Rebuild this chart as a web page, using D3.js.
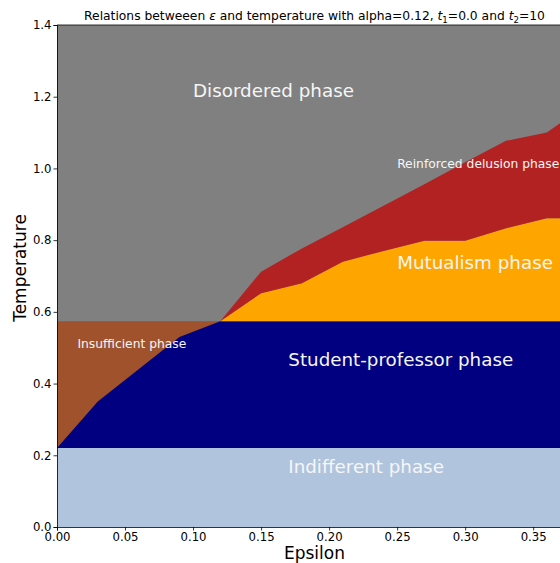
<!DOCTYPE html>
<html>
<head>
<meta charset="utf-8">
<script src="https://cdn.jsdelivr.net/npm/d3@7"></script>
<style>
  body { margin: 0; background: #fff; }
  svg { display: block; font-family: "DejaVu Sans", sans-serif; }
</style>
</head>
<body>
<div id="chart"></div>
<script>
// epsilon grid (step 0.03) and phase boundaries
var epsilon      = [0, 0.03, 0.06, 0.09, 0.12, 0.15, 0.18, 0.21, 0.24, 0.27, 0.30, 0.33, 0.36, 0.39];
var studentTop   = [0.22, 0.35, 0.44, 0.53, 0.574, 0.574, 0.574, 0.574, 0.574, 0.574, 0.574, 0.574, 0.574, 0.574];
var mutualismTop = [0.574, 0.574, 0.574, 0.574, 0.574, 0.652, 0.68, 0.74, 0.77, 0.798, 0.798, 0.833, 0.861, 0.861];
var delusionTop  = [0.574, 0.574, 0.574, 0.574, 0.574, 0.712, 0.777, 0.836, 0.896, 0.956, 1.017, 1.077, 1.10, 1.18];
var indifferentTop = 0.22;
var insufficientTop = 0.574;

var xTicks = [0, 0.05, 0.10, 0.15, 0.20, 0.25, 0.30, 0.35];
var yTicks = [0, 0.2, 0.4, 0.6, 0.8, 1.0, 1.2, 1.4];

var labelText = ["Disordered phase", "Reinforced delusion phase", "Mutualism phase", "Insufficient phase", "Student-professor phase", "Indifferent phase"];
var labelX    = [0.10, 0.25, 0.25, 0.015, 0.17, 0.17];
var labelY    = [1.2, 1.0, 0.72, 0.5, 0.45, 0.15];
var labelSize = [18.3, 12.3, 18.3, 12.3, 18.3, 18.3];

var width = 560, height = 563;
var margin = {left: 57, top: 25, right: -14, bottom: 36};

var svg = d3.select("#chart").append("svg").attr("width", width).attr("height", height);

var x = d3.scaleLinear().domain([0, 0.38]).range([margin.left, width - margin.right]);
var y = d3.scaleLinear().domain([0, 1.4]).range([height - margin.bottom, margin.top]);

var rows = epsilon.map(function(e, i) {
	return {e: e, student: studentTop[i], mutual: mutualismTop[i], delusion: delusionTop[i]};
});

function band(lo, hi) {
	return d3.area()
		.x(function(d) { return x(d.e); })
		.y0(function(d) { return y(lo(d)); })
		.y1(function(d) { return y(hi(d)); });
}

svg.append("clipPath").attr("id", "plot").append("rect")
	.attr("x", x(0)).attr("y", y(1.4))
	.attr("width", x(0.38) - x(0)).attr("height", y(0) - y(1.4));

var g = svg.append("g").attr("clip-path", "url(#plot)");

// disordered = everything above
g.append("path").datum(rows).attr("fill", "#808080")
	.attr("d", band(function() { return 0; }, function() { return 1.4; }));
g.append("path").datum(rows).attr("fill", "#a0522d")
	.attr("d", band(function() { return indifferentTop; }, function() { return insufficientTop; }));
g.append("path").datum(rows).attr("fill", "#000080")
	.attr("d", band(function() { return indifferentTop; }, function(d) { return d.student; }));
g.append("path").datum(rows).attr("fill", "#ffa500")
	.attr("d", band(function() { return insufficientTop; }, function(d) { return d.mutual; }));
g.append("path").datum(rows).attr("fill", "#b22222")
	.attr("d", band(function(d) { return d.mutual; }, function(d) { return d.delusion; }));
g.append("path").datum(rows).attr("fill", "#b0c4de")
	.attr("d", band(function() { return 0; }, function() { return indifferentTop; }));

g.selectAll(".phase").data(labelText).enter().append("text")
	.attr("class", "phase")
	.attr("x", function(d, i) { return x(labelX[i]); })
	.attr("y", function(d, i) { return y(labelY[i]); })
	.attr("font-size", function(d, i) { return labelSize[i] + "px"; })
	.attr("fill", "#f6f6f6")
	.text(function(d) { return d; });

// axes
var xAxis = svg.append("g").attr("transform", "translate(0," + y(0) + ")")
	.call(d3.axisBottom(x).tickValues(xTicks).tickSize(3.5).tickPadding(2).tickFormat(d3.format(".2f")));
var yAxis = svg.append("g").attr("transform", "translate(" + x(0) + ",0)")
	.call(d3.axisLeft(y).tickValues(yTicks).tickSize(3.5).tickPadding(2).tickFormat(d3.format(".1f")));
[xAxis, yAxis].forEach(function(a) {
	a.selectAll("text").attr("font-size", "11.7px").attr("fill", "#000").attr("font-family", "DejaVu Sans");
	a.select(".domain").attr("stroke", "#000").attr("stroke-width", 0.8);
	a.selectAll(".tick line").attr("stroke", "#000").attr("stroke-width", 0.8);
});
svg.append("line").attr("x1", x(0)).attr("x2", x(0.38)).attr("y1", y(1.4)).attr("y2", y(1.4))
	.attr("stroke", "#000").attr("stroke-width", 0.8);

var cx = 314.5;
svg.append("text").attr("x", cx).attr("y", 559).attr("text-anchor", "middle")
	.attr("font-size", "17px").text("Epsilon");
svg.append("text").attr("transform", "translate(26,268) rotate(-90)")
	.attr("text-anchor", "middle").attr("font-size", "17px").text("Temperature");

var title = svg.append("text").attr("x", cx).attr("y", 20).attr("text-anchor", "middle").attr("font-size", "12.3px");
title.append("tspan").text("Relations betweeen ");
title.append("tspan").attr("font-style", "italic").text("\u03b5");
title.append("tspan").text(" and temperature with alpha=0.12, ");
title.append("tspan").attr("font-style", "italic").text("t");
title.append("tspan").attr("font-size", "8.6px").attr("dy", 2.5).text("1");
title.append("tspan").attr("dy", -2.5).text("=0.0 and ");
title.append("tspan").attr("font-style", "italic").text("t");
title.append("tspan").attr("font-size", "8.6px").attr("dy", 2.5).text("2");
title.append("tspan").attr("dy", -2.5).text("=10");
</script>
</body>
</html>
